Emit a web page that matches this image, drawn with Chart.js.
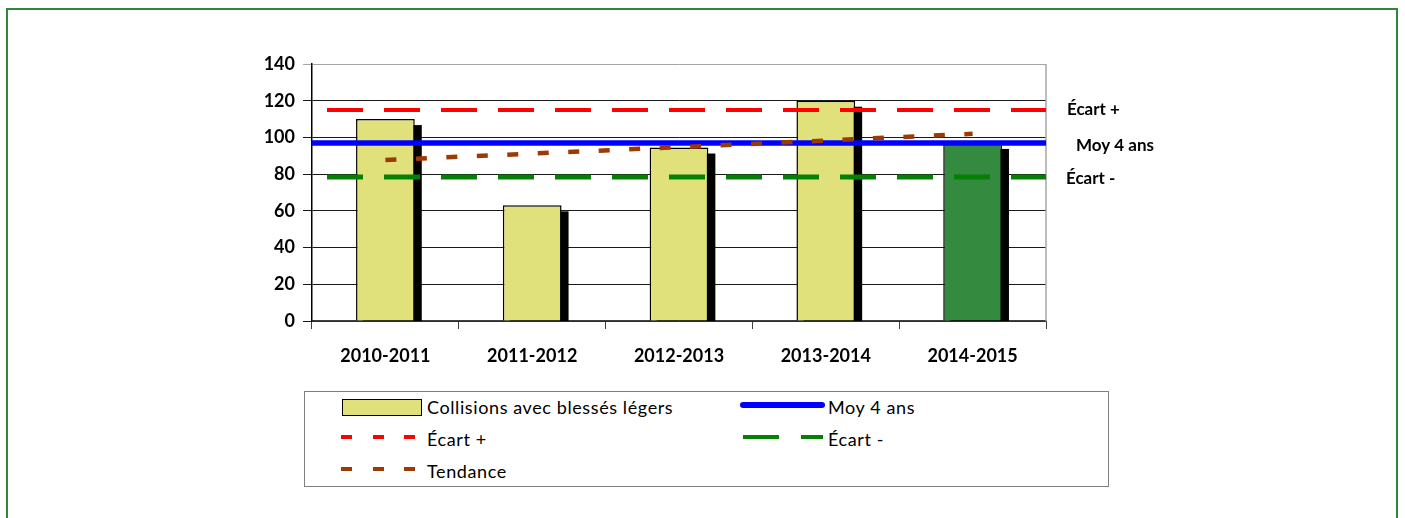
<!DOCTYPE html>
<html>
<head>
<meta charset="utf-8">
<script src="https://cdn.jsdelivr.net/npm/chart.js@4.4.1/dist/chart.umd.min.js"></script>
<style>
  html, body { margin: 0; padding: 0; background: #fff; overflow: hidden; }
  #wrap { position: relative; width: 1405px; height: 518px; }
  #frame { position: absolute; left: 6px; top: 8px; width: 1392px; height: 520px; box-sizing: border-box;
           border-left: 2.5px solid #31853F; border-top: 2.5px solid #31853F; border-right: 2.5px solid #31853F; }
  canvas { position: absolute; left: 0; top: 0; }
  #legend { position: absolute; left: 304px; top: 391px; width: 805px; height: 96px; box-sizing: border-box;
            border: 1px solid #7f7f7f; background: #fff; }
  .lt { position: absolute; font-family: Lato, "Open Sans", sans-serif; font-size: 18px; line-height: 20px; letter-spacing: 0.6px; color: #000; white-space: nowrap; }
  .sym { position: absolute; }
</style>
</head>
<body>
<div id="wrap">
  <div id="frame"></div>
  <canvas id="c" width="1405" height="518"></canvas>
  <div id="legend"></div>
</div>
<script>
// ---------- data ----------
const categories = ['2010-2011', '2011-2012', '2012-2013', '2013-2014', '2014-2015'];
const collisions = [110, 63, 94.5, 120, 97];
const moyenne4Ans = [97, 97];
const ecartPlus = [115, 115];
const ecartMoins = [78.5, 78.5];
const tendance = [87.7, 91.2, 94.7, 98.3, 102];
const yTicks = [0, 20, 40, 60, 80, 100, 120, 140];
const seriesNames = ['Collisions avec blessés légers', 'Moy 4 ans', 'Écart +', 'Écart -', 'Tendance'];
const sideLabels = ['Écart +', 'Moy 4 ans', 'Écart -'];

// ---------- styles ----------
const barFill = '#E1E17B';
const barFillLast = '#348A3F';
const colBlue = '#0000FF', colRed = '#FF0000', colGreen = '#058005', colBrown = '#9C3A06';

const linePts = (vals) => [{ x: 0, y: vals[0] }, { x: categories.length, y: vals[1] }];
const trendPts = tendance.map((v, i) => ({ x: i + 0.5, y: v }));

const shadowPlugin = {
  id: 'barShadow',
  beforeDatasetDraw(chart, args) {
    if (args.index !== 0) return;
    const ctx = chart.ctx, a = chart.chartArea;
    ctx.save();
    ctx.beginPath();
    ctx.rect(a.left, a.top, a.right - a.left, a.bottom - a.top);
    ctx.clip();
    ctx.fillStyle = '#000';
    args.meta.data.forEach(el => {
      const p = el.getProps(['x', 'y', 'width', 'base'], true);
      ctx.fillRect(p.x - p.width / 2 + 7, p.y + 6, p.width, p.base - p.y);
    });
    ctx.restore();
  },
  beforeDatasetsDraw(chart) {
    const ctx = chart.ctx, a = chart.chartArea;
    ctx.save();
    ctx.strokeStyle = '#A6A6A6';
    ctx.lineWidth = 1.5;
    ctx.beginPath();
    ctx.moveTo(a.right, a.top);
    ctx.lineTo(a.right, a.bottom);
    ctx.stroke();
    ctx.restore();
  },
  afterDraw(chart) {
    const ctx = chart.ctx, a = chart.chartArea, y = chart.scales.y;
    ctx.save();
    ctx.fillStyle = '#000';
    ctx.font = 'bold 17px Lato, sans-serif';
    ctx.textAlign = 'left';
    ctx.textBaseline = 'middle';
    const vals = [ecartPlus[0], moyenne4Ans[0], ecartMoins[0]];
    const dx = [21, 30, 20];
    const dy = [0, 3, 2];
    sideLabels.forEach((t, i) => ctx.fillText(t, a.right + dx[i], y.getPixelForValue(vals[i]) + dy[i]));
    ctx.restore();
  }
};

const chart = new Chart(document.getElementById('c'), {
  type: 'bar',
  data: {
    labels: categories,
    datasets: [
      { type: 'bar', label: seriesNames[0], data: collisions, xAxisID: 'x', yAxisID: 'y', order: 10,
        backgroundColor: collisions.map((v, i) => i === collisions.length - 1 ? barFillLast : barFill),
        borderColor: '#000', borderWidth: 1.5, barPercentage: 0.4, categoryPercentage: 1, grouped: false, clip: 0 },
      { type: 'line', label: seriesNames[1], data: linePts(moyenne4Ans), xAxisID: 'xl', yAxisID: 'y', order: 1,
        borderColor: colBlue, borderWidth: 5.5, pointRadius: 0, fill: false },
      { type: 'line', label: seriesNames[2], data: linePts(ecartPlus), xAxisID: 'xl', yAxisID: 'y', order: 2,
        borderColor: colRed, borderWidth: 4, borderDash: [36, 21], borderDashOffset: 42, pointRadius: 0, fill: false },
      { type: 'line', label: seriesNames[3], data: linePts(ecartMoins), xAxisID: 'xl', yAxisID: 'y', order: 2,
        borderColor: colGreen, borderWidth: 5, borderDash: [36, 21], borderDashOffset: 42, pointRadius: 0, fill: false },
      { type: 'line', label: seriesNames[4], data: trendPts, xAxisID: 'xl', yAxisID: 'y', order: 0,
        borderColor: colBrown, borderWidth: 4.5, borderDash: [11, 19.5], pointRadius: 0, fill: false }
    ]
  },
  options: {
    responsive: false,
    devicePixelRatio: 1,
    animation: false,
    layout: { padding: { left: 262, top: 64, right: 359, bottom: 137 } },
    plugins: { legend: { display: false }, tooltip: { enabled: false } },
    scales: {
      x: {
        type: 'category', offset: true, position: 'bottom',
        grid: { offset: true, drawOnChartArea: false, tickLength: 8, color: '#404040', lineWidth: 1 },
        border: { color: '#404040', width: 1.5 },
        ticks: { color: '#000', font: { family: 'Lato', weight: 'bold', size: 18 }, padding: 16, maxRotation: 0 },
        afterFit(s) { s.height = 60; }
      },
      xl: { type: 'linear', min: 0, max: categories.length, offset: false, display: false },
      y: {
        min: 0, max: 140,
        afterBuildTicks(s) { s.ticks = yTicks.map(v => ({ value: v })); },
        grid: { tickLength: 9, lineWidth: 1,
                color: (c) => c.tick && c.tick.value === 140 ? '#A6A6A6' : '#1a1a1a' },
        border: { color: '#000', width: 1.5 },
        ticks: { color: '#000', font: { family: 'Lato', weight: 'bold', size: 18 }, padding: 8 },
        afterFit(s) { s.width = 50; }
      }
    }
  },
  plugins: [shadowPlugin]
});

// ---------- legend (HTML) ----------
const lg = document.getElementById('legend');
function add(html) { lg.insertAdjacentHTML('beforeend', html); }
const L = 304, T = 391;
// Collisions
add(`<div class="sym" style="left:${341-L}px;top:${398-T}px;width:80px;height:17px;box-sizing:border-box;background:${barFill};border:1.5px solid #000"></div>`);
add(`<div class="lt" style="left:${426-L}px;top:${396-T}px">${seriesNames[0]}</div>`);
// Moy 4 ans
add(`<div class="sym" style="left:${739-L}px;top:${401-T}px;width:85px;height:5.5px;border-radius:3px;background:${colBlue}"></div>`);
add(`<div class="lt" style="left:${827-L}px;top:${396-T}px">${seriesNames[1]}</div>`);
// Écart +
add(`<div class="sym" style="left:${340-L}px;top:${434-T}px;width:74px;height:4px;background:repeating-linear-gradient(to right, ${colRed} 0 11px, transparent 11px 31.5px)"></div>`);
add(`<div class="lt" style="left:${426-L}px;top:${428-T}px">${seriesNames[2]}</div>`);
// Écart -
add(`<div class="sym" style="left:${742-L}px;top:${434-T}px;width:80px;height:4px;background:repeating-linear-gradient(to right, ${colGreen} 0 36px, transparent 36px 58px)"></div>`);
add(`<div class="lt" style="left:${827-L}px;top:${428-T}px">${seriesNames[3]}</div>`);
// Tendance
add(`<div class="sym" style="left:${340-L}px;top:${466-T}px;width:74px;height:4px;background:repeating-linear-gradient(to right, ${colBrown} 0 11px, transparent 11px 31.5px)"></div>`);
add(`<div class="lt" style="left:${426-L}px;top:${460-T}px">${seriesNames[4]}</div>`);
</script>
</body>
</html>
